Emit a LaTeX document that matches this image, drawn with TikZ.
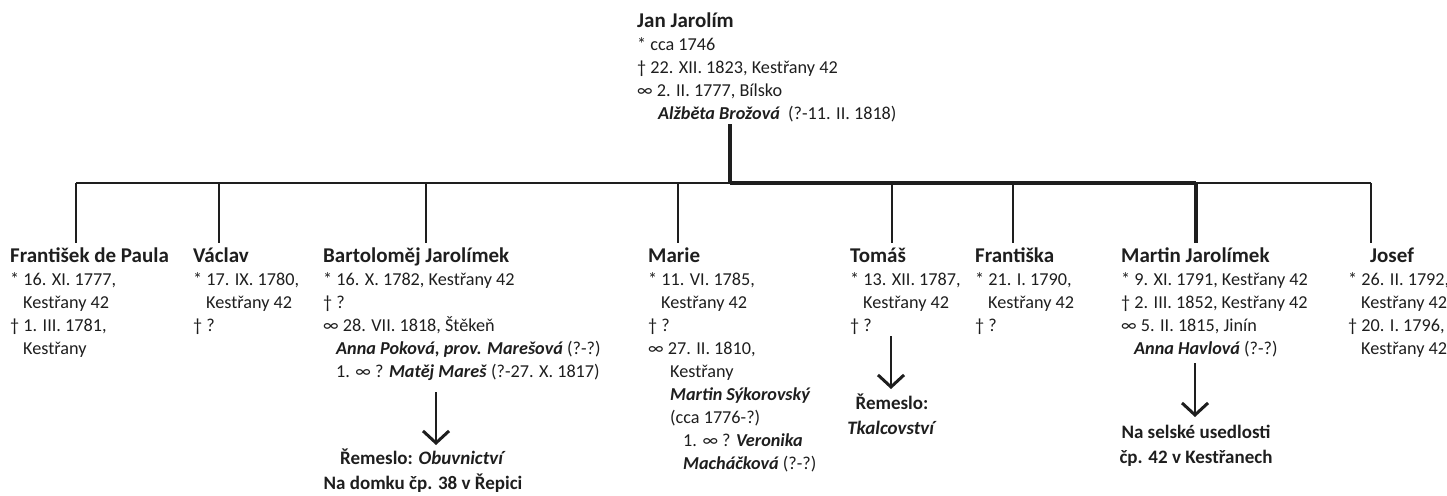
\documentclass[tikz,border=0pt]{standalone}
\usepackage{fontspec}
\setmainfont{Carlito}
\usetikzlibrary{arrows.meta}
\definecolor{ink}{HTML}{1E1E1E}
\tikzset{
  person/.style={anchor=north west, inner sep=0pt, align=left, text=ink,
    font=\fontsize{18.2}{23}\selectfont},
  occ/.style={anchor=north, inner sep=0pt, align=center, text=ink,
    font=\fontsize{19}{25}\selectfont\bfseries},
  thin/.style={draw=ink, line width=1.6pt},
  thick/.style={draw=ink, line width=3.6pt},
  arr/.style={draw=ink, line width=2.6pt, -{Straight Barb[length=12pt,width=26pt,line width=3pt]}},
}
\newcommand{\nm}[1]{{\fontsize{21}{23}\selectfont\bfseries\rule{0pt}{19pt}#1}}
\newcommand{\spz}[1]{\textbf{\textit{#1}}}
\newcommand{\ind}{\hspace*{13pt}}
\newcommand{\ost}{\rule{0pt}{18pt}}
\begin{document}
\begin{tikzpicture}[x=1pt,y=1pt]
\useasboundingbox (0,0) rectangle (1447,-495);
% top
\node[person] (jan) at (637,-8) {\nm{Jan Jarolím}\\
* cca 1746\\
† 22. XII. 1823, Kestřany 42\\
∞ 2. II. 1777, Bílsko\\
\hspace*{21pt}\spz{Alžběta Brožová}\ \ (?-11. II. 1818)};
% children
\node[person] (c1) at (10,-243) {\nm{František de Paula}\\
* 16. XI. 1777,\\
\ind Kestřany 42\\
† 1. III. 1781,\\
\ind Kestřany};
\node[person] (c2) at (193,-243) {\nm{Václav}\\
* 17. IX. 1780,\\
\ind Kestřany 42\\
† ?};
\node[person] (c3) at (323,-243) {\nm{Bartoloměj Jarolímek}\\
* 16. X. 1782, Kestřany 42\\
† ?\\
∞ 28. VII. 1818, Štěkeň\\
\ind\spz{Anna Poková, prov. Marešová} (?-?)\\
\ind 1. ∞ ? \spz{Matěj Mareš} (?-27. X. 1817)};
\node[person] (c4) at (648,-243) {\nm{Marie}\\
* 11. VI. 1785,\\
\ind Kestřany 42\\
† ?\\
∞ 27. II. 1810,\\
\hspace*{22pt}Kestřany\\
\hspace*{22pt}\spz{Martin Sýkorovský}\\
\hspace*{22pt}(cca 1776-?)\\
\hspace*{35pt}1. ∞ ? \spz{Veronika}\\
\hspace*{35pt}\spz{Macháčková} (?-?)};
\node[person] (c5) at (850,-243) {\nm{Tomáš}\\
* 13. XII. 1787,\\
\ind Kestřany 42\\
† ?};
\node[person] (c6) at (975,-243) {\nm{Františka}\\
* 21. I. 1790,\\
\ind Kestřany 42\\
† ?};
\node[person] (c7) at (1121,-243) {\nm{Martin Jarolímek}\\
* 9. XI. 1791, Kestřany 42\\
† 2. III. 1852, Kestřany 42\\
∞ 5. II. 1815, Jinín\\
\ind\spz{Anna Havlová} (?-?)};
\node[person] (c8) at (1348,-243) {\hspace*{22pt}\nm{Josef}\\
* 26. II. 1792,\\
\ind Kestřany 42\\
† 20. I. 1796,\\
\ind Kestřany 42};
% occupations
\node[occ] (o3) at (423,-446) {\ost Řemeslo: \textit{Obuvnictví}\\Na domku čp. 38 v Řepici};
\node[occ] (o5) at (892,-391) {\ost Řemeslo:\\\textit{Tkalcovství}};
\node[occ] (o7) at (1196,-420) {\ost Na selské usedlosti\\čp. 42 v Kestřanech};
% tree coordinates
\coordinate (jstem) at (730,-124);
\coordinate (bar) at (730,-183);
\foreach \i/\x in {1/76,2/219,3/426,4/678,5/892,6/1013,7/1196,8/1371}{
  \coordinate (t\i) at (\x,-183);
  \coordinate (b\i) at (\x,-243);
}
\draw[thick] (jstem) -- (bar);
\draw[thin] (t1) -- (bar);
\draw[thick] (bar) -- (t7);
\draw[thin] (t7) -- (t8);
\foreach \i in {1,2,3,4,5,6,8}{\draw[thin] (t\i) -- (b\i);}
\draw[thick] (t7) -- (b7);
% arrows
\coordinate (a3s) at (436,-392);
\coordinate (a3e) at (436,-445);
\coordinate (a5s) at (891,-336);
\coordinate (a5e) at (891,-389);
\coordinate (a7s) at (1195,-363);
\coordinate (a7e) at (1195,-417);
\draw[arr] (a3s) -- (a3e);
\draw[arr] (a5s) -- (a5e);
\draw[arr] (a7s) -- (a7e);
\end{tikzpicture}
\end{document}
